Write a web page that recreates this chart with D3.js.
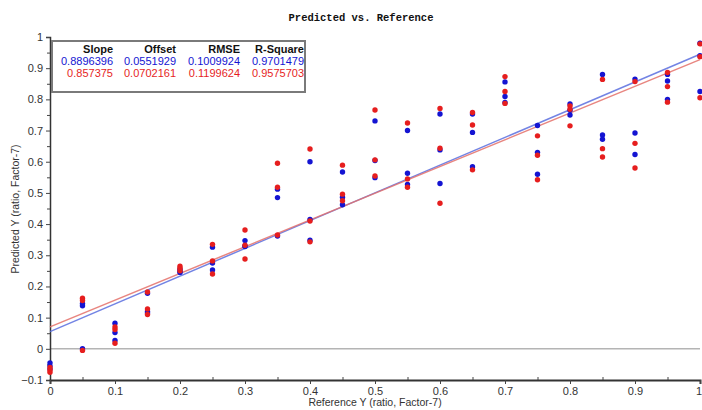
<!DOCTYPE html>
<html>
<head>
<meta charset="utf-8">
<script src="https://cdn.jsdelivr.net/npm/d3@7"></script>
<style>
    body { margin: 0; background: #fff; }
    svg { display: block; }
</style>
</head>
<body>
<svg id="chart"></svg>
<script>
// reference values (x) and the predicted values for each sample, per model
var refY = [0, 0.05, 0.1, 0.15, 0.2, 0.25, 0.3, 0.35, 0.4, 0.45, 0.5,
            0.55, 0.6, 0.65, 0.7, 0.75, 0.8, 0.85, 0.9, 0.95, 1];

var predBlue = [
    [-0.045, -0.055, -0.065],
    [0.145, 0.138, 0.0],
    [0.082, 0.052, 0.027],
    [0.178, 0.12, 0.115],
    [0.255, 0.248, 0.245],
    [0.326, 0.275, 0.253],
    [0.347, 0.33, 0.328],
    [0.512, 0.485, 0.362],
    [0.6, 0.415, 0.348],
    [0.567, 0.486, 0.462],
    [0.731, 0.604, 0.549],
    [0.7, 0.563, 0.527],
    [0.753, 0.638, 0.53],
    [0.753, 0.694, 0.584],
    [0.856, 0.809, 0.79],
    [0.716, 0.63, 0.56],
    [0.785, 0.765, 0.75],
    [0.88, 0.686, 0.672],
    [0.865, 0.692, 0.623],
    [0.88, 0.859, 0.8],
    [0.98, 0.94, 0.825]
];

var predRed = [
    [-0.06, -0.068, -0.075],
    [0.162, 0.155, -0.005],
    [0.07, 0.062, 0.018],
    [0.182, 0.128, 0.11],
    [0.265, 0.258, 0.25],
    [0.335, 0.282, 0.24],
    [0.381, 0.332, 0.288],
    [0.595, 0.518, 0.365],
    [0.641, 0.41, 0.343],
    [0.589, 0.496, 0.475],
    [0.766, 0.606, 0.554],
    [0.724, 0.545, 0.518],
    [0.771, 0.643, 0.467],
    [0.758, 0.718, 0.574],
    [0.873, 0.825, 0.787],
    [0.683, 0.621, 0.542],
    [0.779, 0.768, 0.715],
    [0.864, 0.642, 0.615],
    [0.857, 0.659, 0.58],
    [0.886, 0.841, 0.791],
    [0.978, 0.937, 0.805]
];

var xTicks = [0, 0.1, 0.2, 0.3, 0.4, 0.5, 0.6, 0.7, 0.8, 0.9, 1];
var yTicks = [-0.1, 0, 0.1, 0.2, 0.3, 0.4, 0.5, 0.6, 0.7, 0.8, 0.9, 1];

var statHeaders = ["Slope", "Offset", "RMSE", "R-Square"];
var statsBlue = ["0.8896396", "0.0551929", "0.1009924", "0.9701479"];
var statsRed = ["0.857375", "0.0702161", "0.1199624", "0.9575703"];

var width = 702,
    height = 410,
    blue = "#1414d2",
    red = "#e61e1e",
    font = "Liberation Sans, Arial, sans-serif";

var svg = d3.select("#chart")
    .attr("width", width)
    .attr("height", height);

var x = d3.scaleLinear().domain([0, 1]).range([50, 700]);
var y = d3.scaleLinear().domain([-0.1, 1]).range([380, 37]);

// title
svg.append("text")
    .attr("x", 361)
    .attr("y", 21)
    .attr("text-anchor", "middle")
    .style("font-family", "Liberation Mono, Courier New, monospace")
    .style("font-weight", "bold")
    .style("font-size", "10.5px")
    .style("fill", "#111")
    .text("Predicted vs. Reference");

// zero line
svg.append("line")
    .attr("x1", x(0))
    .attr("x2", x(1))
    .attr("y1", y(0))
    .attr("y2", y(0))
    .style("stroke", "#b4b4b4")
    .style("stroke-width", 1.5);

// axes
var minorX = xTicks.slice(0, -1).map(function(d) { return d + 0.05; });
var minorY = yTicks.slice(0, -1).map(function(d) { return d + 0.05; });

var yAxis = svg.append("g")
    .attr("transform", "translate(" + x(0) + ",0)")
    .call(d3.axisLeft(y).tickValues(yTicks).tickSize(4).tickPadding(3)
        .tickFormat(function(d) { return d3.format("~g")(d); }));

svg.append("g")
    .attr("transform", "translate(" + x(0) + ",0)")
    .call(d3.axisLeft(y).tickValues(minorY).tickSize(3).tickFormat(""))
    .select(".domain").remove();

var xAxis = svg.append("g")
    .attr("transform", "translate(0," + y(-0.1) + ")")
    .call(d3.axisBottom(x).tickValues(xTicks).tickSize(4).tickPadding(3)
        .tickFormat(function(d) { return d3.format("~g")(d); }));

svg.append("g")
    .attr("transform", "translate(0," + y(-0.1) + ")")
    .call(d3.axisBottom(x).tickValues(minorX).tickSize(-3).tickFormat(""))
    .select(".domain").remove();

// keep the last label ("1") inside the window edge
xAxis.selectAll(".tick text")
    .filter(function(d) { return d === 1; })
    .attr("text-anchor", "end")
    .attr("x", 1.5);

svg.selectAll(".domain").style("stroke", "#333");
yAxis.select(".domain").style("stroke-width", 1.5);
xAxis.select(".domain").style("stroke-width", 2);
svg.selectAll(".tick line").style("stroke", "#444");
svg.selectAll(".tick text")
    .style("font-family", font)
    .style("font-size", "11px")
    .style("fill", "#333");

// axis titles
svg.append("text")
    .attr("x", 375)
    .attr("y", 406)
    .attr("text-anchor", "middle")
    .style("font-family", font)
    .style("font-size", "10.5px")
    .style("fill", "#333")
    .text("Reference Y (ratio, Factor-7)");

svg.append("text")
    .attr("transform", "translate(19,209) rotate(-90)")
    .attr("text-anchor", "middle")
    .style("font-family", font)
    .style("font-size", "10.5px")
    .style("fill", "#333")
    .text("Predicted Y (ratio, Factor-7)");

// regression lines
function fitLine(stats, color) {
    var slope = +stats[0], offset = +stats[1];
    svg.append("line")
        .attr("x1", x(0))
        .attr("y1", y(offset))
        .attr("x2", x(1))
        .attr("y2", y(offset + slope))
        .style("stroke", color)
        .style("stroke-width", 1.5)
        .style("opacity", 0.85);
}
fitLine(statsBlue, "#5b6fe0");
fitLine(statsRed, "#e5716b");

// points
function points(values, color) {
    var flat = [];
    values.forEach(function(col, i) {
        col.forEach(function(v) { flat.push({ref: refY[i], pred: v}); });
    });
    svg.append("g").selectAll("circle")
        .data(flat)
        .enter()
        .append("circle")
        .attr("cx", function(d) { return x(d.ref); })
        .attr("cy", function(d) { return y(d.pred); })
        .attr("r", 2.7)
        .style("fill", color);
}
points(predBlue, blue);
points(predRed, red);

// stats box
var box = svg.append("g");
box.append("rect")
    .attr("x", 52)
    .attr("y", 41)
    .attr("width", 253)
    .attr("height", 51)
    .style("fill", "#fff")
    .style("stroke", "#7a7a7a")
    .style("stroke-width", 2);

var colRight = [113, 176, 240, 304];
var rows = [
    {vals: statHeaders, color: "#111", weight: "bold", y: 53},
    {vals: statsBlue, color: blue, weight: "normal", y: 65},
    {vals: statsRed, color: red, weight: "normal", y: 77}
];
rows.forEach(function(r) {
    box.selectAll(null)
        .data(r.vals)
        .enter()
        .append("text")
        .attr("x", function(d, i) { return colRight[i]; })
        .attr("y", r.y)
        .attr("text-anchor", "end")
        .style("font-family", font)
        .style("font-size", "11px")
        .style("font-weight", r.weight)
        .style("fill", r.color)
        .text(function(d) { return d; });
});
</script>
</body>
</html>
